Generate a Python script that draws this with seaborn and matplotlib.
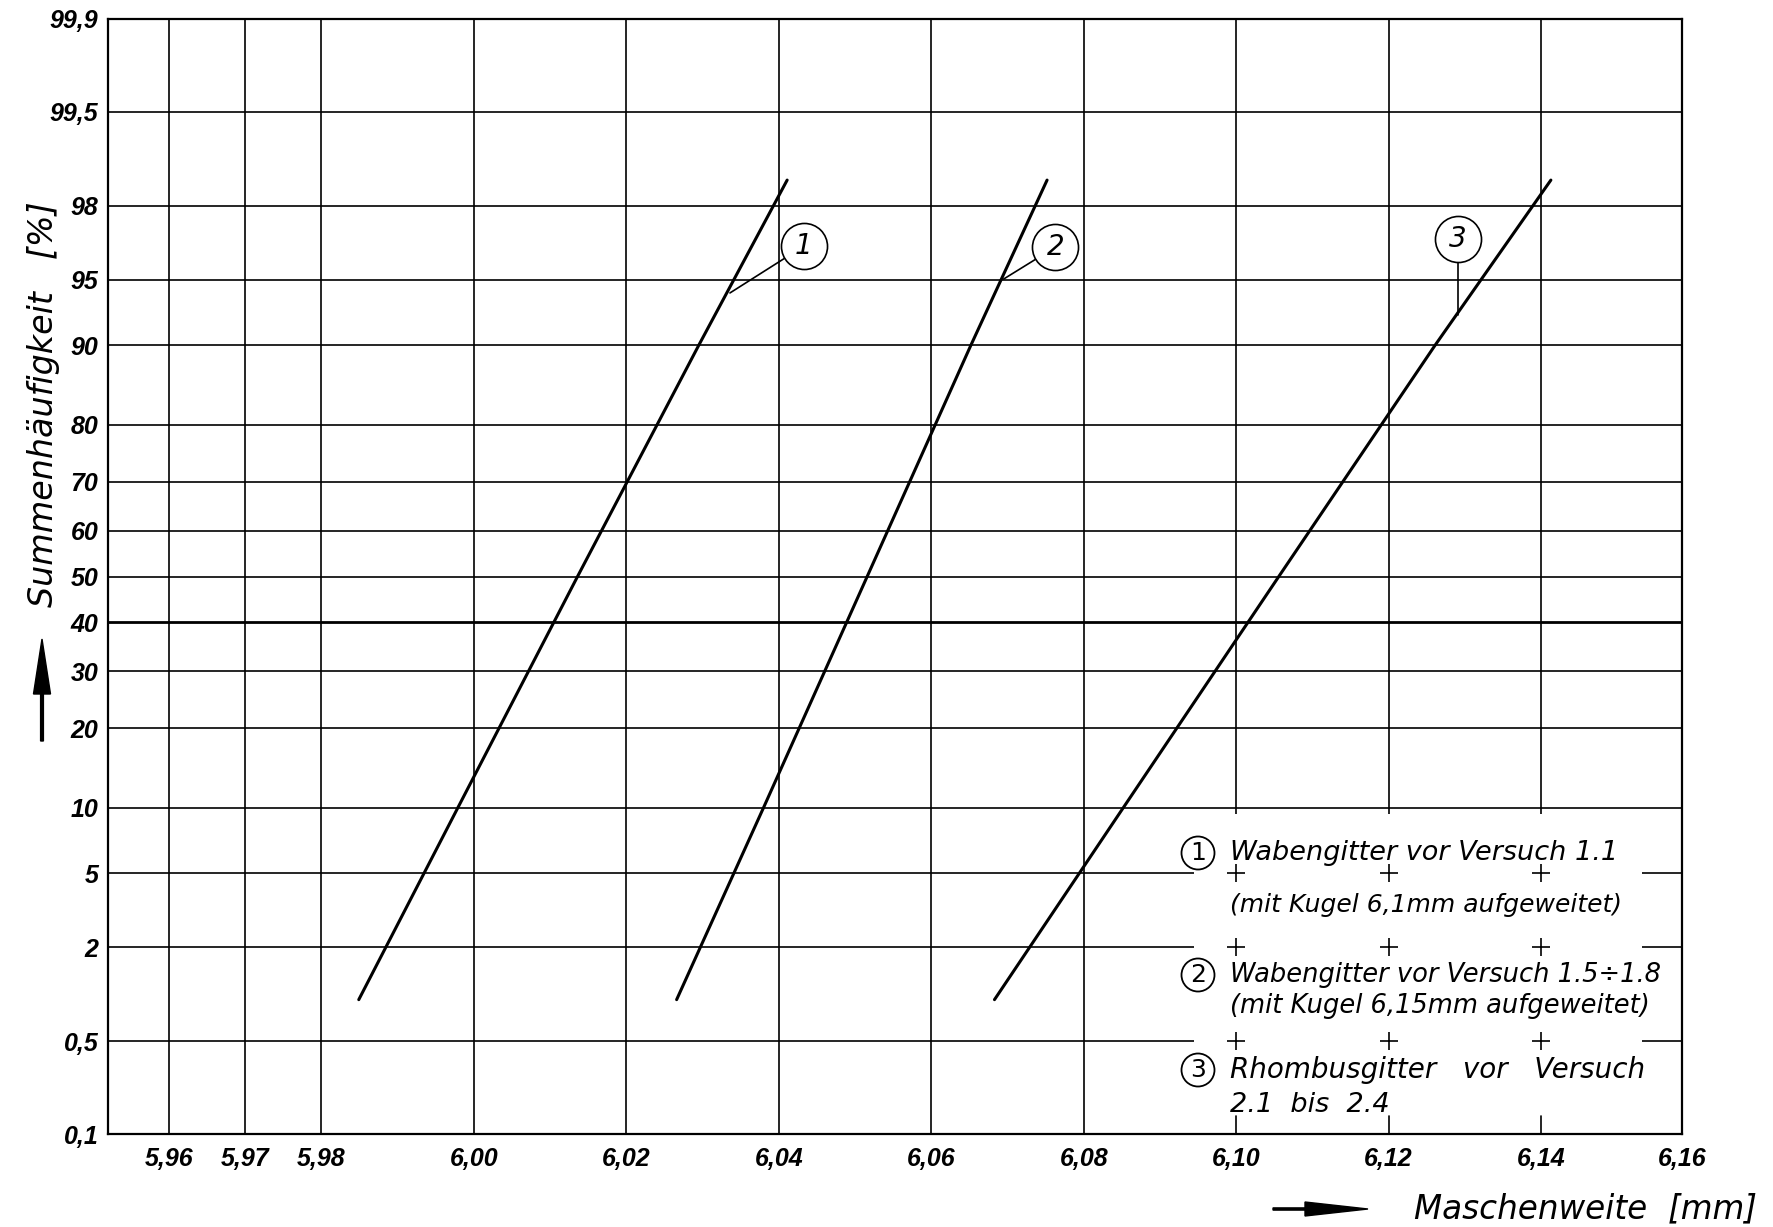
import numpy as np
import pandas as pd
import seaborn as sns
import matplotlib
matplotlib.use("Agg")
import matplotlib.pyplot as plt
from matplotlib.patches import Rectangle, FancyArrow, Circle
from statistics import NormalDist

# ---------------- data ----------------
PCT = [0.95, 10, 50, 90, 98.6]                       # Summenhäufigkeit [%]
X_LINE1 = [5.9849, 5.9979, 6.0136, 6.0295, 6.0411]   # Maschenweite [mm]
X_LINE2 = [6.0266, 6.0380, 6.0516, 6.0652, 6.0752]
X_LINE3 = [6.0683, 6.0852, 6.1056, 6.1261, 6.1414]
SERIES = ["1", "2", "3"]

X_TICKS = [5.96, 5.97, 5.98, 6.00, 6.02, 6.04, 6.06, 6.08, 6.10, 6.12, 6.14, 6.16]
X_TICK_LABELS = ["5,96", "5,97", "5,98", "6,00", "6,02", "6,04", "6,06", "6,08",
                 "6,10", "6,12", "6,14", "6,16"]
Y_TICKS = [0.1, 0.5, 2, 5, 10, 20, 30, 40, 50, 60, 70, 80, 90, 95, 98, 99.5, 99.9]
Y_TICK_LABELS = ["0,1", "0,5", "2", "5", "10", "20", "30", "40", "50", "60", "70",
                 "80", "90", "95", "98", "99,5", "99,9"]

# callouts: circle centre and point on curve (x, %)
CALLOUT_X = [6.0433, 6.0763, 6.1291]
CALLOUT_P = [96.65, 96.61, 96.93]
TARGET_X = [6.0336, 6.0695, 6.1291]
TARGET_P = [94.20, 95.04, 92.64]

LEGEND_NUMS = ["1", "2", "3"]
LEGEND_LINE_A = ["Wabengitter vor Versuch 1.1",
                 "Wabengitter vor Versuch 1.5\u00f71.8",
                 "Rhombusgitter   vor   Versuch"]
LEGEND_LINE_B = ["(mit Kugel 6,1mm aufgeweitet)",
                 "(mit Kugel 6,15mm aufgeweitet)",
                 "2.1  bis  2.4"]
LEGEND_GRID_X = [6.10, 6.12, 6.14]
LEGEND_GRID_P = [5, 2, 0.5]

# ---------------- scales ----------------
_nd = NormalDist()


def fwd_y(p):
    p = np.clip(np.asarray(p, float) / 100.0, 1e-9, 1 - 1e-9)
    return np.vectorize(_nd.inv_cdf, otypes=[float])(p)


def inv_y(z):
    z = np.asarray(z, float)
    return 100.0 * np.vectorize(_nd.cdf, otypes=[float])(z)


# hand-drawn paper: last division slightly narrower
XA = [5.952, 6.14, 6.16]
PA = [108.0, 1541.0, 1682.0]


def _pw(v, xs, ys):
    v = np.asarray(v, float)
    out = np.interp(v, xs, ys)
    out = np.where(v < xs[0], ys[0] + (v - xs[0]) * (ys[1] - ys[0]) / (xs[1] - xs[0]), out)
    out = np.where(v > xs[-1], ys[-1] + (v - xs[-1]) * (ys[-1] - ys[-2]) / (xs[-1] - xs[-2]), out)
    return out


def fwd_x(x):
    return _pw(x, XA, PA)


def inv_x(p):
    return _pw(p, PA, XA)


# ---------------- figure ----------------
sns.set_theme(style="white")
plt.rcParams.update({
    "font.family": ["DejaVu Sans"],
    "text.color": "black", "axes.labelcolor": "black",
    "xtick.color": "black", "ytick.color": "black",
    "axes.edgecolor": "black",
})
TICK_FONT = ["Liberation Sans", "DejaVu Sans"]

W, H = 1773, 1227
fig = plt.figure(figsize=(W / 100, H / 100), dpi=100)
fig.patch.set_facecolor("white")
ax = fig.add_axes([108 / W, 1 - 1134 / H, (1682 - 108) / W, (1134 - 19) / H])
ax.set_facecolor("white")
ax.set_xscale("function", functions=(fwd_x, inv_x))
ax.set_yscale("function", functions=(fwd_y, inv_y))

df = pd.DataFrame({
    "x": X_LINE1 + X_LINE2 + X_LINE3,
    "pct": PCT * 3,
    "series": [s for s in SERIES for _ in PCT],
})
sns.lineplot(data=df, x="x", y="pct", hue="series", estimator=None, sort=False,
             palette=["black"] * 3, legend=False, linewidth=2.2, ax=ax, zorder=2)

ax.set_xlim(5.952, 6.16)
ax.set_ylim(0.1, 99.9)
ax.set_xticks(X_TICKS)
ax.set_xticklabels(X_TICK_LABELS, fontsize=18, style="italic", weight="bold", family=TICK_FONT)
ax.set_yticks(Y_TICKS)
ax.set_yticklabels(Y_TICK_LABELS, fontsize=18, style="italic", weight="bold", family=TICK_FONT)
ax.minorticks_off()

ax.set_axisbelow(True)
ax.grid(True, which="major", color="black", linewidth=1.2)
ax.yaxis.get_gridlines()[Y_TICKS.index(40)].set_linewidth(2.0)
for sp in ax.spines.values():
    sp.set_visible(True)
    sp.set_color("black")
    sp.set_linewidth(1.6)

ax.tick_params(axis="x", length=0, pad=9)
ax.tick_params(axis="y", length=6, width=1.1, direction="out", pad=1)
for t in ax.yaxis.get_major_ticks()[1:]:
    t.tick1line.set_visible(False)
    t.tick2line.set_visible(False)

ax.set_xlabel("Maschenweite  [mm]", fontsize=23.5, style="italic", ha="center", va="center")
ax.xaxis.set_label_coords((1585 - 108) / 1574, -(1209 - 1134) / 1115)
ax.set_ylabel("Summenhäufigkeit   [%]", fontsize=24, style="italic", ha="center", va="center")
ax.yaxis.set_label_coords((44 - 108) / 1574, 1 - (404 - 19) / 1115)

# legend field: grid interrupted, only crosses
ylo, yhi = fwd_y(0.1), fwd_y(99.9)
top_frac = float((fwd_y(10) - ylo) / (yhi - ylo)) - 6 / 1115
ax.add_patch(Rectangle((6.0945, 0), 6.1543 - 6.0945, top_frac,
                       transform=ax.get_xaxis_transform(), facecolor="white",
                       edgecolor="none", zorder=1))
gx = [x for _ in LEGEND_GRID_P for x in LEGEND_GRID_X]
gp = [p for p in LEGEND_GRID_P for _ in LEGEND_GRID_X]
ax.scatter(gx, gp, marker="+", s=170, linewidths=1.2, color="black", zorder=1.5)
for x in LEGEND_GRID_X:
    ax.plot([x, x], [0, 18 / 1115], transform=ax.get_xaxis_transform(),
            color="black", lw=1.2, zorder=1.5)

# callouts on the curves
for cx, cp, tx, tp in zip(CALLOUT_X, CALLOUT_P, TARGET_X, TARGET_P):
    ax.plot([tx, cx], [tp, cp], color="black", lw=1.2, zorder=2.5)
ax.scatter(CALLOUT_X, CALLOUT_P, s=1100, facecolor="white", edgecolor="black",
           linewidths=1.2, zorder=3)
for cx, cp, lab in zip(CALLOUT_X, CALLOUT_P, SERIES):
    ax.text(cx, cp, lab, fontsize=20, style="italic", ha="center", va="center", zorder=4)


# legend text (figure pixel layout)
def fx(px):
    return px / W


def fy(py):
    return 1 - py / H


ROW_A = [853, 975, 1070]
ROW_B = [905, 1006, 1105]
SIZE_A = [19.5, 18.5, 20]
SIZE_B = [18, 18.5, 19.5]
for num, la, lb, ya, yb, sa, sb in zip(LEGEND_NUMS, LEGEND_LINE_A, LEGEND_LINE_B,
                                       ROW_A, ROW_B, SIZE_A, SIZE_B):
    fig.add_artist(Circle((1198 / 100, (H - ya) / 100), 0.165, transform=fig.dpi_scale_trans,
                          fill=False, edgecolor="black", lw=1.3))
    fig.text(fx(1198), fy(ya), num, fontsize=18, ha="center", va="center")
    fig.text(fx(1230), fy(ya), la, fontsize=sa, style="italic", ha="left", va="center")
    fig.text(fx(1230), fy(yb), lb, fontsize=sb, style="italic", ha="left", va="center")

# axis arrows
fig.add_artist(FancyArrow(0.42, (H - 741) / 100, 0, 1.02, width=0.028, head_width=0.17,
                          head_length=0.55, length_includes_head=True, color="black",
                          transform=fig.dpi_scale_trans))
fig.add_artist(FancyArrow(12.73, (H - 1209) / 100, 0.95, 0, width=0.022, head_width=0.14,
                          head_length=0.63, length_includes_head=True, color="black",
                          transform=fig.dpi_scale_trans))

fig.savefig("out.png", dpi=100, facecolor="white")
